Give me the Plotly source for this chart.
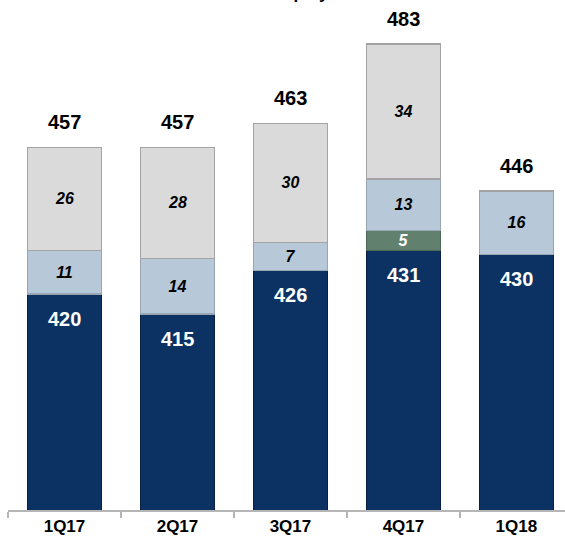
import plotly.graph_objects as go

quarters = ["1Q17", "2Q17", "3Q17", "4Q17", "1Q18"]
core = [420, 415, 426, 431, 430]
green = [0, 0, 0, 5, 0]
blue = [11, 14, 7, 13, 16]
grey = [26, 28, 30, 34, 0]
totals = [457, 457, 463, 483, 446]

FONT = "Liberation Sans, Arial"

def labels(vals):
    return [str(v) if v else "" for v in vals]

fig = go.Figure()

# core segment: label placed near its top edge via annotations below
fig.add_trace(go.Bar(
    x=quarters, y=core,
    marker=dict(color="#0b3263", line=dict(color="#061f42", width=1.5)),
    width=0.655, hoverinfo="skip",
))

segments = [
    (green, "#61806d", "#4d6757", "white"),
    (blue, "#b7c8d8", "#98a6b3", "black"),
    (grey, "#dadadb", "#a3a3a5", "black"),
]
for vals, fill, edge, tcolor in segments:
    fig.add_trace(go.Bar(
        x=quarters, y=vals,
        marker=dict(color=fill, line=dict(color=edge, width=1.5)),
        text=labels(vals), textposition="inside", insidetextanchor="middle",
        textangle=0, constraintext="none",
        textfont=dict(family=FONT, size=16, color=tcolor, weight="bold", style="italic"),
        width=0.655, hoverinfo="skip",
    ))

for q, v in zip(quarters, core):
    fig.add_annotation(x=q, y=v, text=str(v), showarrow=False, yanchor="top",
                       yshift=-12, font=dict(family=FONT, size=20, color="white", weight="bold"))

for q, t in zip(quarters, totals):
    fig.add_annotation(x=q, y=t, text=str(t), showarrow=False, yanchor="bottom",
                       yshift=12, font=dict(family=FONT, size=20, color="black", weight="bold"))

fig.add_annotation(xref="paper", yref="paper", x=0.545, y=1, yanchor="bottom", yshift=-5,
                   text="Employees", showarrow=False,
                   font=dict(family=FONT, size=17, color="black", weight="bold"))

fig.update_layout(
    width=565, height=546, barmode="stack", showlegend=False,
    margin=dict(l=8, r=0, t=0, b=36),
    paper_bgcolor="white", plot_bgcolor="white",
    xaxis=dict(type="category", range=[-0.5, 4.43], tickson="boundaries",
               ticks="outside", ticklen=6, tickcolor="#b5b5b5", tickwidth=1.5,
               showline=True, linecolor="#b5b5b5", linewidth=1.5, showgrid=False,
               tickfont=dict(family=FONT, size=17, color="black", weight="bold")),
    yaxis=dict(range=[365.6, 494.1], visible=False, showgrid=False),
)

fig.write_html("out.html")
